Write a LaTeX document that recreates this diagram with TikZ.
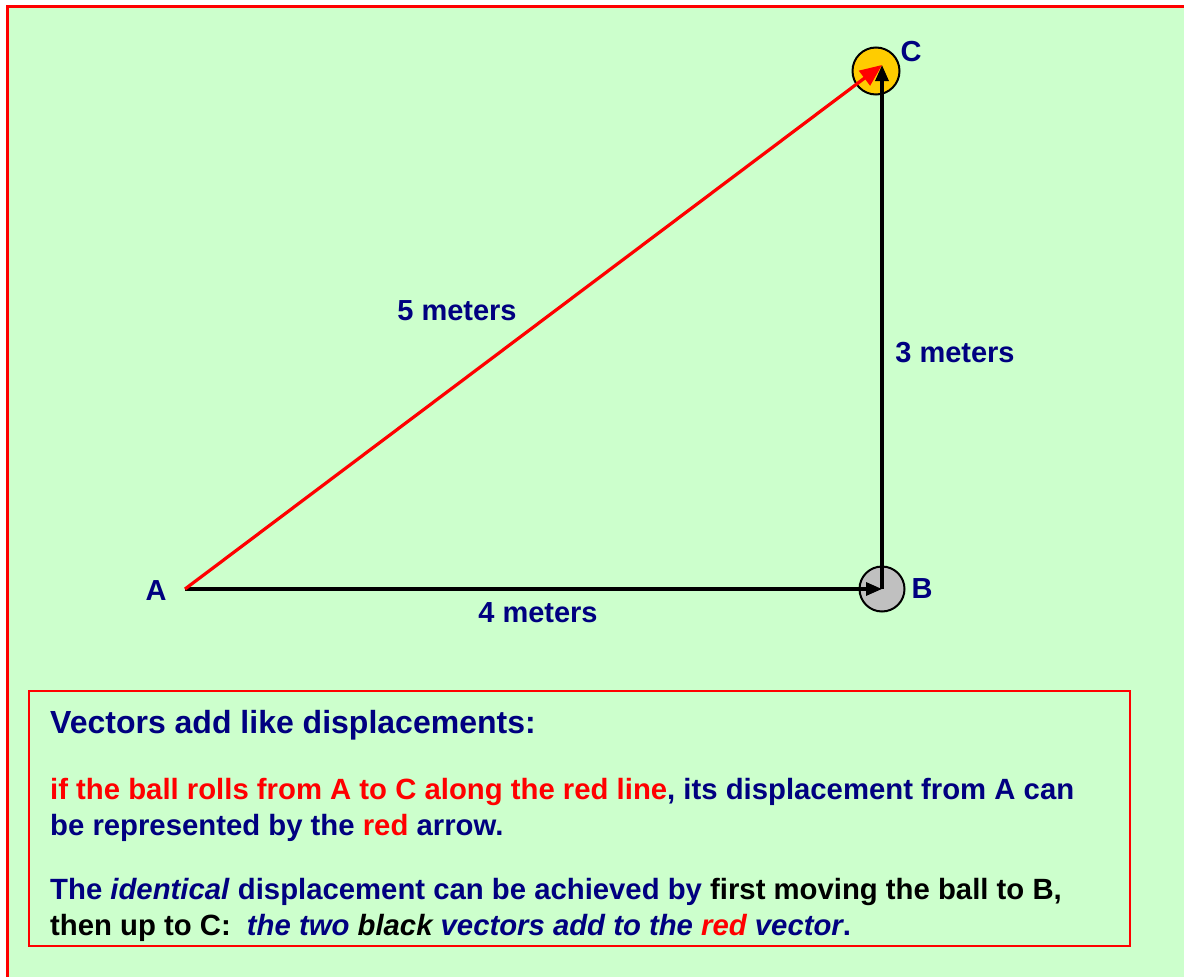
\documentclass[tikz,border=0pt]{standalone}
\usepackage{fontspec}
\setmainfont{Liberation Sans}
\usetikzlibrary{arrows.meta,positioning}
\definecolor{bggreen}{RGB}{204,255,204}
\definecolor{navy}{RGB}{0,0,128}
\definecolor{ballgold}{RGB}{255,204,0}
\definecolor{ballgray}{RGB}{192,192,192}

\begin{document}
\begin{tikzpicture}[x=1pt, y=-1pt,
  ball/.style={circle, draw=black, line width=2pt, inner sep=0pt},
  lbl/.style={font=\fontsize{29}{34}\selectfont\bfseries, text=navy, inner sep=0pt},
  vec/.style={line width=3.2pt, -{Triangle[length=16pt,width=13pt]}},
  redvec/.style={line width=3.2pt, red, -{Triangle[length=22pt,width=18pt]}}
]
  \useasboundingbox (0,0) rectangle (1184,977);
  \clip (0,0) rectangle (1184,977);
  \fill[white] (0,0) rectangle (1184,977);
  \draw[red, line width=3.5pt, fill=bggreen] (7.5,6.5) rectangle (1250,1050);

  % balls and corners
  \coordinate (A) at (185,589);
  \node[ball, fill=ballgray, minimum size=45pt] (ballB) at (882,589) {};
  \node[ball, fill=ballgold, minimum size=47pt] (ballC) at (876,71) {};
  \coordinate (Ctip) at (882,65);

  % vectors
  \draw[vec] (A) -- (ballB.center);
  \draw[vec] (ballB.center) -- (Ctip);
  \draw[redvec] (A) -- (Ctip);

  % labels
  \node[lbl] (labA) at (156,591) {A};
  \node[lbl, right=6pt of ballB] (labB) {B};
  \node[lbl] (labC) at (911,52) {C};
  \node[lbl] (lab5) at (457,311) {5 meters};
  \node[lbl] (lab3) at (955,353) {3 meters};
  \node[lbl] (lab4) at (538,613) {4 meters};

  % explanation box
  \draw[red, line width=2.5pt] (29,691) rectangle (1130,946);
  \node[anchor=base west, align=left, text=navy, inner sep=0pt,
        font=\fontsize{29.3}{36}\selectfont\bfseries] (note) at (50,935)
  {{\fontsize{32}{36}\selectfont Vectors add like displacements:}\\[30pt]
   \textcolor{red}{if the ball rolls from A to C along the red line}, its displacement from A can\\
   be represented by the \textcolor{red}{red} arrow.\\[28pt]
   The \textit{identical} displacement can be achieved by \textcolor{black}{first moving the ball to B,}\\
   \textcolor{black}{then up to C:}\hspace{0.55em}\textit{the two \textcolor{black}{black} vectors add to the \textcolor{red}{red} vector}.};
\end{tikzpicture}
\end{document}
